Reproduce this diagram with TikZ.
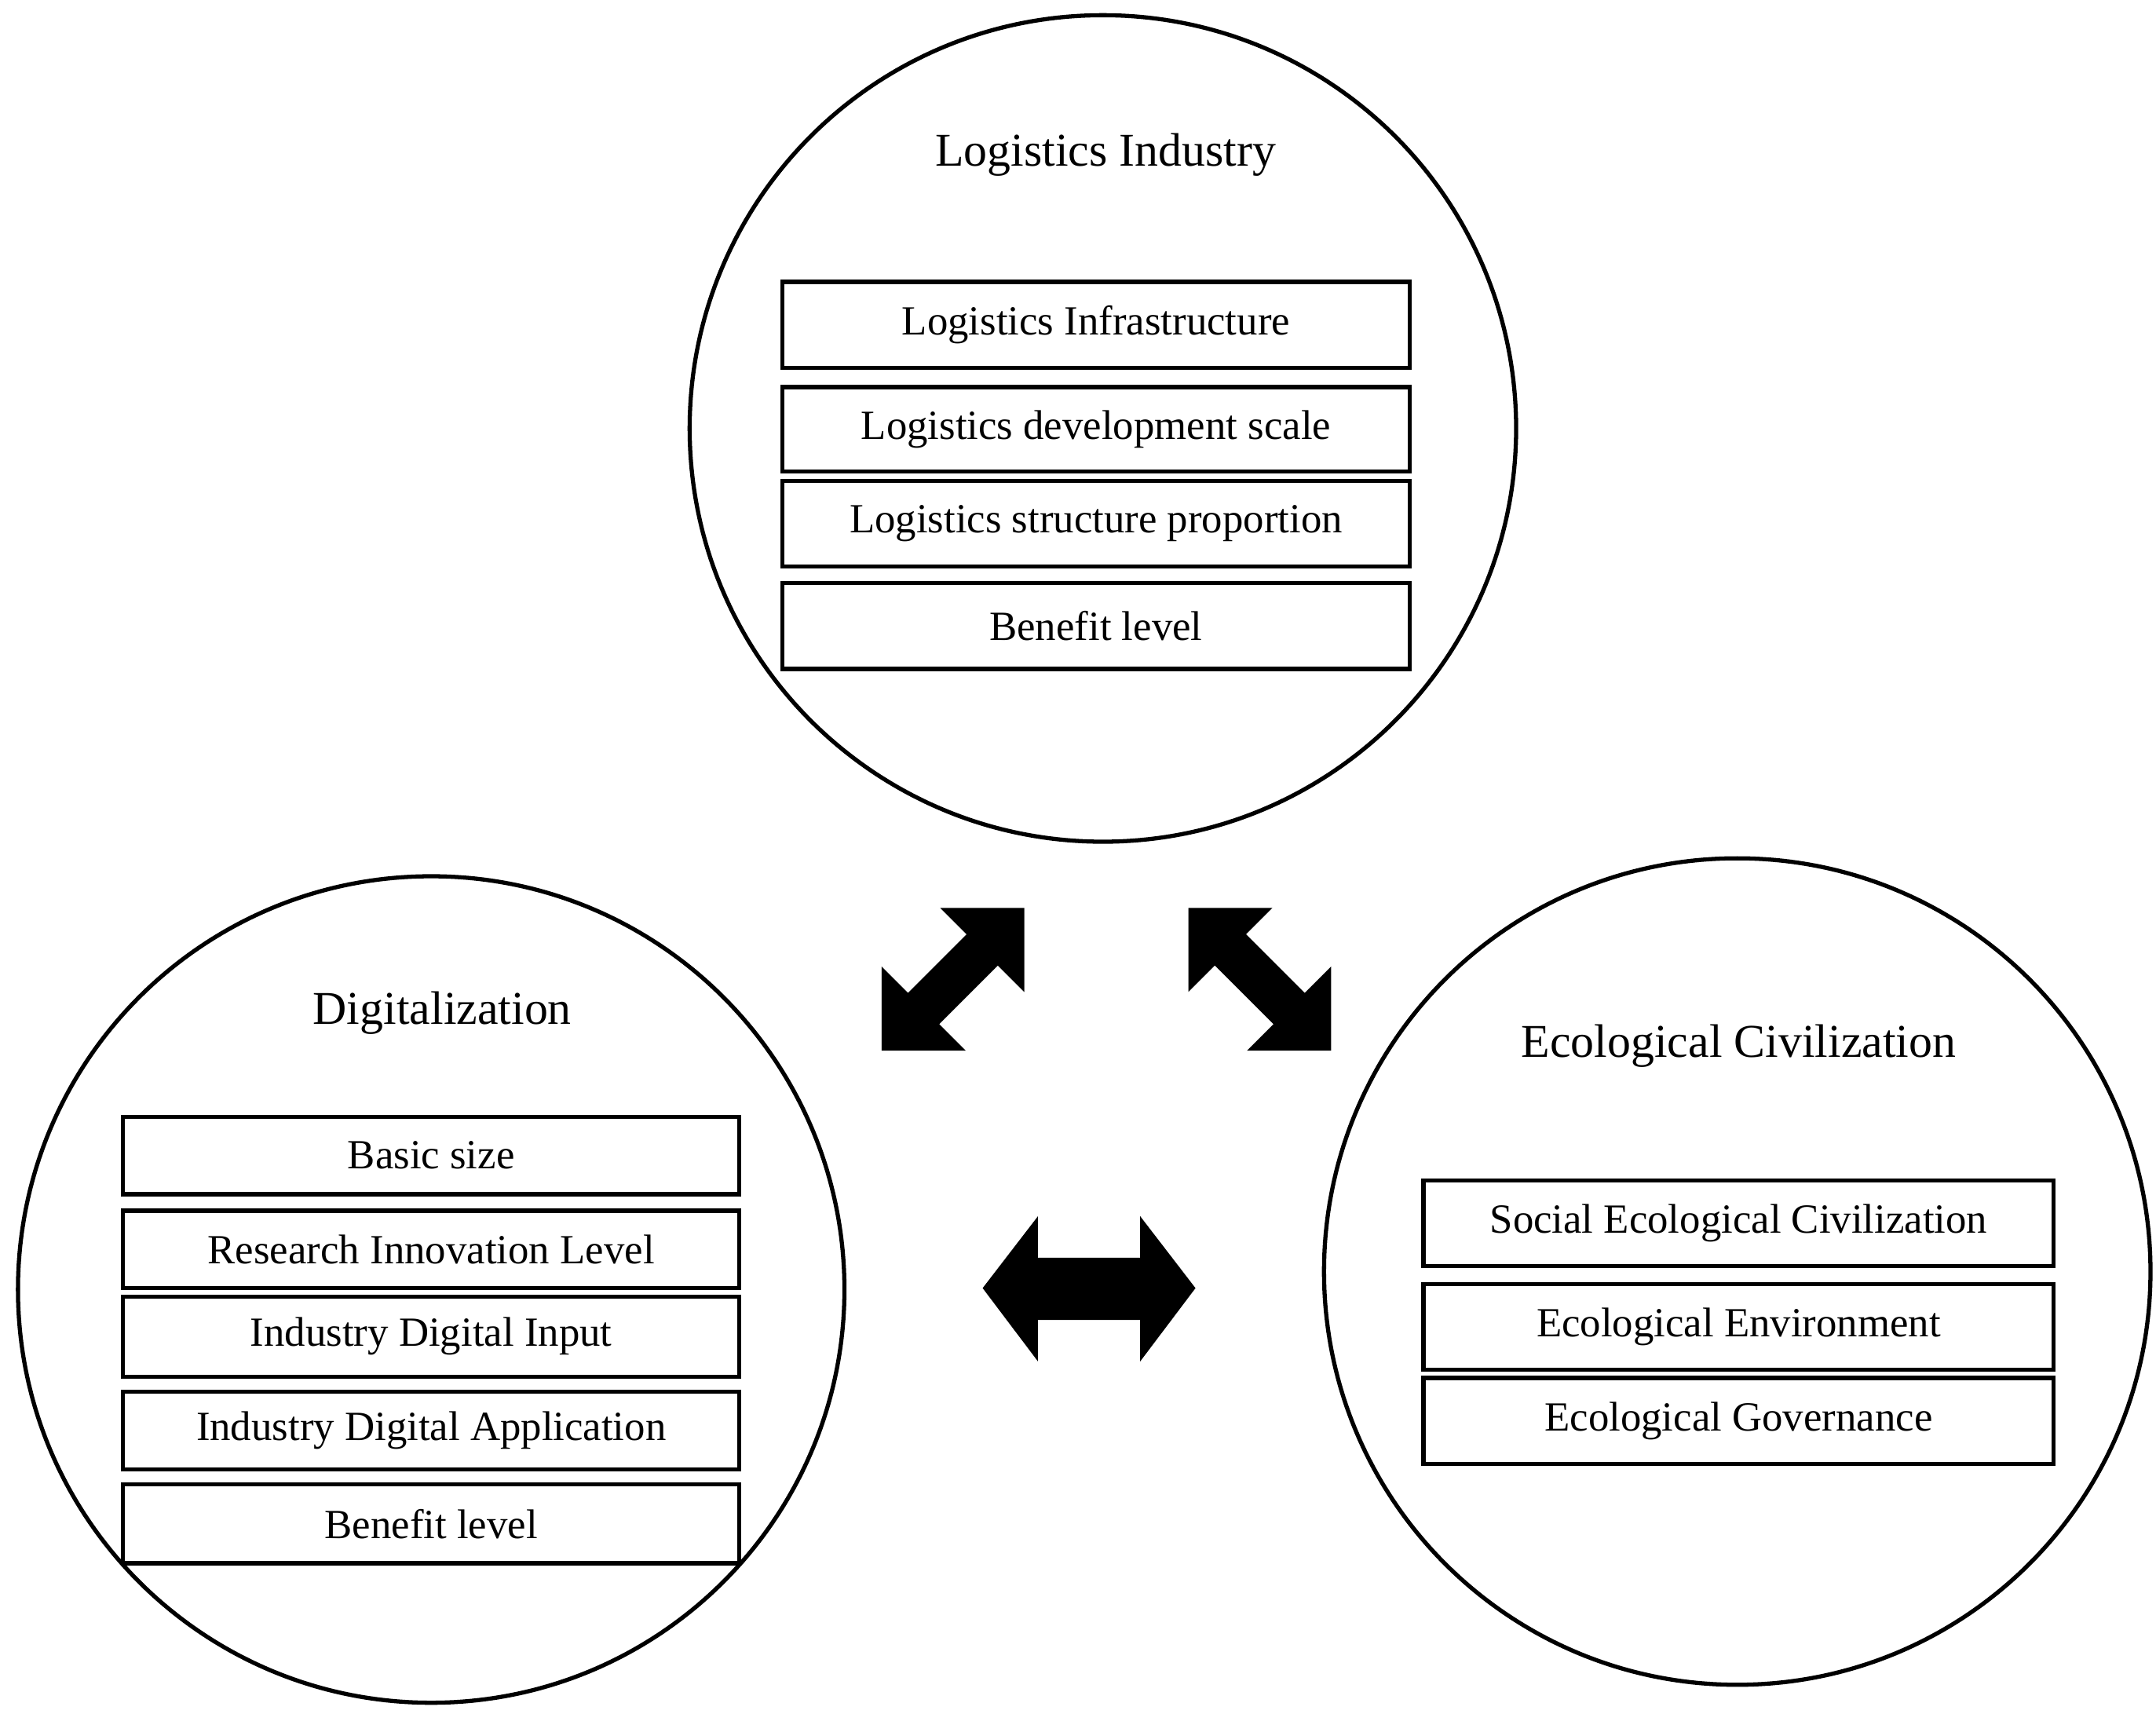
\documentclass[tikz,border=0pt]{standalone}
\usepackage{fontspec}
\setmainfont{Liberation Serif}
\begin{document}
\begin{tikzpicture}[x=1pt,y=-1pt,line width=3pt,
  cir/.style={draw,circle,minimum size=598pt,inner sep=0pt},
  ttl/.style={font=\fontsize{34}{40}\selectfont},
  bx/.style={draw,minimum width=454pt,inner sep=0pt,font=\fontsize{30}{36}\selectfont}]
\useasboundingbox (0,0) rectangle (1560,1240);
\node[cir] (C1) at (798,310) {};
\node[cir] (C2) at (312,933) {};
\node[cir] (C3) at (1257,920) {};
\node[ttl] (T1) at (800,112) {Logistics Industry};
\node[ttl] (T2) at (320,733) {Digitalization};
\node[ttl] (T3) at (1258,757) {Ecological Civilization};
\node[bx,minimum height=62pt] (a1) at (793,235) {Logistics Infrastructure};
\node[bx,minimum height=61pt] (a2) at (793,310.5) {Logistics development scale};
\node[bx,minimum height=62pt] (a3) at (793,379) {Logistics structure proportion};
\node[bx,minimum height=62pt] (a4) at (793,453) {Benefit level};
\node[bx,minimum width=446pt,minimum height=56pt] (b1) at (312,836) {Basic size};
\node[bx,minimum width=446pt,minimum height=56pt] (b2) at (312,904) {Research Innovation Level};
\node[bx,minimum width=446pt,minimum height=58pt] (b3) at (312,967) {Industry Digital Input};
\node[bx,minimum width=446pt,minimum height=56pt] (b4) at (312,1035) {Industry Digital Application};
\node[bx,minimum width=446pt,minimum height=57pt] (b5) at (312,1102.5) {Benefit level};
\node[bx,minimum width=456pt,minimum height=62pt] (c1) at (1258,885) {Social Ecological Civilization};
\node[bx,minimum width=456pt,minimum height=62pt] (c2) at (1258,960) {Ecological Environment};
\node[bx,minimum width=456pt,minimum height=62pt] (c3) at (1258,1028) {Ecological Governance};
\fill (711,932)--(751,880)--(751,910)--(825,910)--(825,880)--(865,932)--(825,985)--(825,955)--(751,955)--(751,985)--cycle;
\foreach \cx/\cy/\r in {689.5/708.5/45, 911.5/708.5/-45}{
\begin{scope}[shift={(\cx,\cy)},rotate=\r]
\fill (-73,0)--(-30,-43)--(-30,-16)--(30,-16)--(30,-43)--(73,0)--(30,43)--(30,16)--(-30,16)--(-30,43)--cycle;
\end{scope}}
\end{tikzpicture}
\end{document}
